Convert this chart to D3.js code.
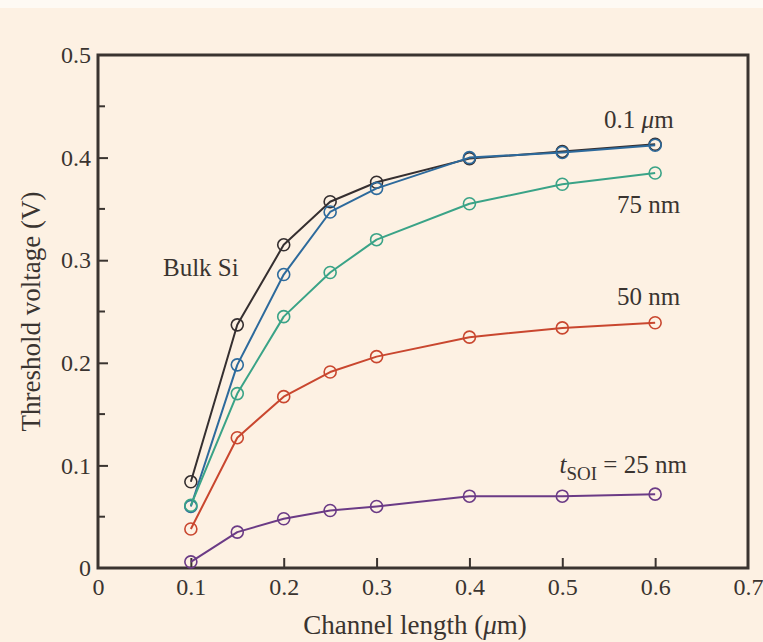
<!DOCTYPE html>
<html>
<head>
<meta charset="utf-8">
<script src="https://cdn.jsdelivr.net/npm/d3@7"></script>
<style>
  body { margin: 0; background: #fdf1e3; overflow: hidden; }
  svg { display: block; }
</style>
</head>
<body>
<div id="chart"></div>
<script>
// channel lengths (um)
const lengths = [0.1, 0.15, 0.2, 0.25, 0.3, 0.4, 0.5, 0.6];

// threshold voltage (V)
const bulkSi = [0.084, 0.237, 0.315, 0.357, 0.376, 0.399, 0.406, 0.413];
const soi100 = [0.060, 0.198, 0.286, 0.347, 0.370, 0.400, 0.405, 0.412];
const soi75  = [0.061, 0.170, 0.245, 0.288, 0.320, 0.355, 0.374, 0.385];
const soi50  = [0.038, 0.127, 0.167, 0.191, 0.206, 0.225, 0.234, 0.239];
const soi25  = [0.006, 0.035, 0.048, 0.056, 0.060, 0.070, 0.070, 0.072];

const seriesVals = [bulkSi, soi100, soi75, soi50, soi25];
const seriesColors = ["#352f30", "#2d6a9c", "#3aa387", "#c9472f", "#6b3b86"];

const xTicks = [0, 0.1, 0.2, 0.3, 0.4, 0.5, 0.6, 0.7];
const yTicks = [0, 0.1, 0.2, 0.3, 0.4, 0.5];
const yMinor = [0.05, 0.15, 0.25, 0.35, 0.45];

const font = "Liberation Serif, DejaVu Serif, serif";
const ink = "#3a3430";

const width = 763, height = 642;
const margin = { left: 98, right: 15, top: 55, bottom: 74 };
const innerWidth = width - margin.left - margin.right;
const innerHeight = height - margin.top - margin.bottom;

const xScale = d3.scaleLinear().domain([0, 0.7]).range([0, innerWidth]);
const yScale = d3.scaleLinear().domain([0, 0.5]).range([innerHeight, 0]);

const svg = d3.select("#chart").append("svg")
    .attr("width", width)
    .attr("height", height)
    .attr("font-family", font)
    .attr("fill", ink);

svg.append("rect")
    .attr("width", width).attr("height", 8)
    .attr("fill", "#fefaf4");

const g = svg.append("g")
    .attr("transform", `translate(${margin.left}, ${margin.top})`);

// axes with inward ticks
const xAxis = d3.axisBottom(xScale)
    .tickValues(xTicks)
    .tickFormat(d => d === 0 ? "0" : d3.format(".1f")(d))
    .tickSize(-10)
    .tickPadding(10);

const yAxis = d3.axisLeft(yScale)
    .tickValues(yTicks)
    .tickFormat(d => d === 0 ? "0" : d3.format(".1f")(d))
    .tickSize(-10)
    .tickPadding(7);

const xAxisG = g.append("g")
    .attr("transform", `translate(0, ${innerHeight})`)
    .call(xAxis);
const yAxisG = g.append("g").call(yAxis);

[xAxisG, yAxisG].forEach(a => {
  a.attr("font-family", font).attr("font-size", 24);
  a.select(".domain").remove();
  a.selectAll(".tick line").attr("stroke", ink).attr("stroke-width", 2);
  a.selectAll(".tick text").attr("fill", ink);
});
// no tick marks at the box corners
xAxisG.selectAll(".tick").filter(d => d === 0 || d === 0.7).select("line").remove();
yAxisG.selectAll(".tick").filter(d => d === 0 || d === 0.5).select("line").remove();
yAxisG.selectAll(".tick text").attr("dy", "0.32em");

g.selectAll(".yminor").data(yMinor)
  .enter().append("line")
    .attr("x1", 0).attr("x2", 7)
    .attr("y1", d => yScale(d)).attr("y2", d => yScale(d))
    .attr("stroke", ink).attr("stroke-width", 2);

g.append("rect")
    .attr("width", innerWidth).attr("height", innerHeight)
    .attr("fill", "none")
    .attr("stroke", ink)
    .attr("stroke-width", 3);

// axis titles
const xt = svg.append("text")
    .attr("font-size", 27)
    .attr("x", 415)
    .attr("y", 634)
    .attr("text-anchor", "middle");
xt.append("tspan").text("Channel length  (");
xt.append("tspan").attr("font-style", "italic").text("\u03bc");
xt.append("tspan").text("m)");

svg.append("text")
    .attr("font-size", 27)
    .attr("transform", `translate(40, ${margin.top + yScale(0.25)}) rotate(-90)`)
    .attr("text-anchor", "middle")
    .text("Threshold voltage  (V)");

// series
const line = d3.line()
    .x((d, i) => xScale(lengths[i]))
    .y(d => yScale(d));

seriesVals.forEach((vals, k) => {
  const c = seriesColors[k];
  const sg = g.append("g");
  sg.append("path")
      .attr("d", line(vals))
      .attr("fill", "none")
      .attr("stroke", c)
      .attr("stroke-width", 2)
      .attr("stroke-linejoin", "round");
  sg.selectAll("circle").data(vals)
    .enter().append("circle")
      .attr("cx", (d, i) => xScale(lengths[i]))
      .attr("cy", d => yScale(d))
      .attr("r", 6)
      .attr("fill", "none")
      .attr("stroke", c)
      .attr("stroke-width", 1.6);
});

// annotations
const ann = g.append("g").attr("font-size", 25);

const t1 = ann.append("text")
    .attr("x", xScale(0.545)).attr("y", yScale(0.429));
t1.append("tspan").text("0.1 ");
t1.append("tspan").attr("font-style", "italic").text("\u03bc");
t1.append("tspan").text("m");

ann.append("text")
    .attr("x", xScale(0.559)).attr("y", yScale(0.346))
    .text("75 nm");

ann.append("text")
    .attr("x", xScale(0.559)).attr("y", yScale(0.256))
    .text("50 nm");

ann.append("text")
    .attr("x", xScale(0.07)).attr("y", yScale(0.285))
    .text("Bulk Si");

const t4 = ann.append("text")
    .attr("x", xScale(0.497)).attr("y", yScale(0.093));
t4.append("tspan").attr("font-style", "italic").text("t");
t4.append("tspan").attr("font-size", 19).attr("dy", 7).text("SOI");
t4.append("tspan").attr("dy", -7).text(" = 25 nm");
</script>
</body>
</html>
